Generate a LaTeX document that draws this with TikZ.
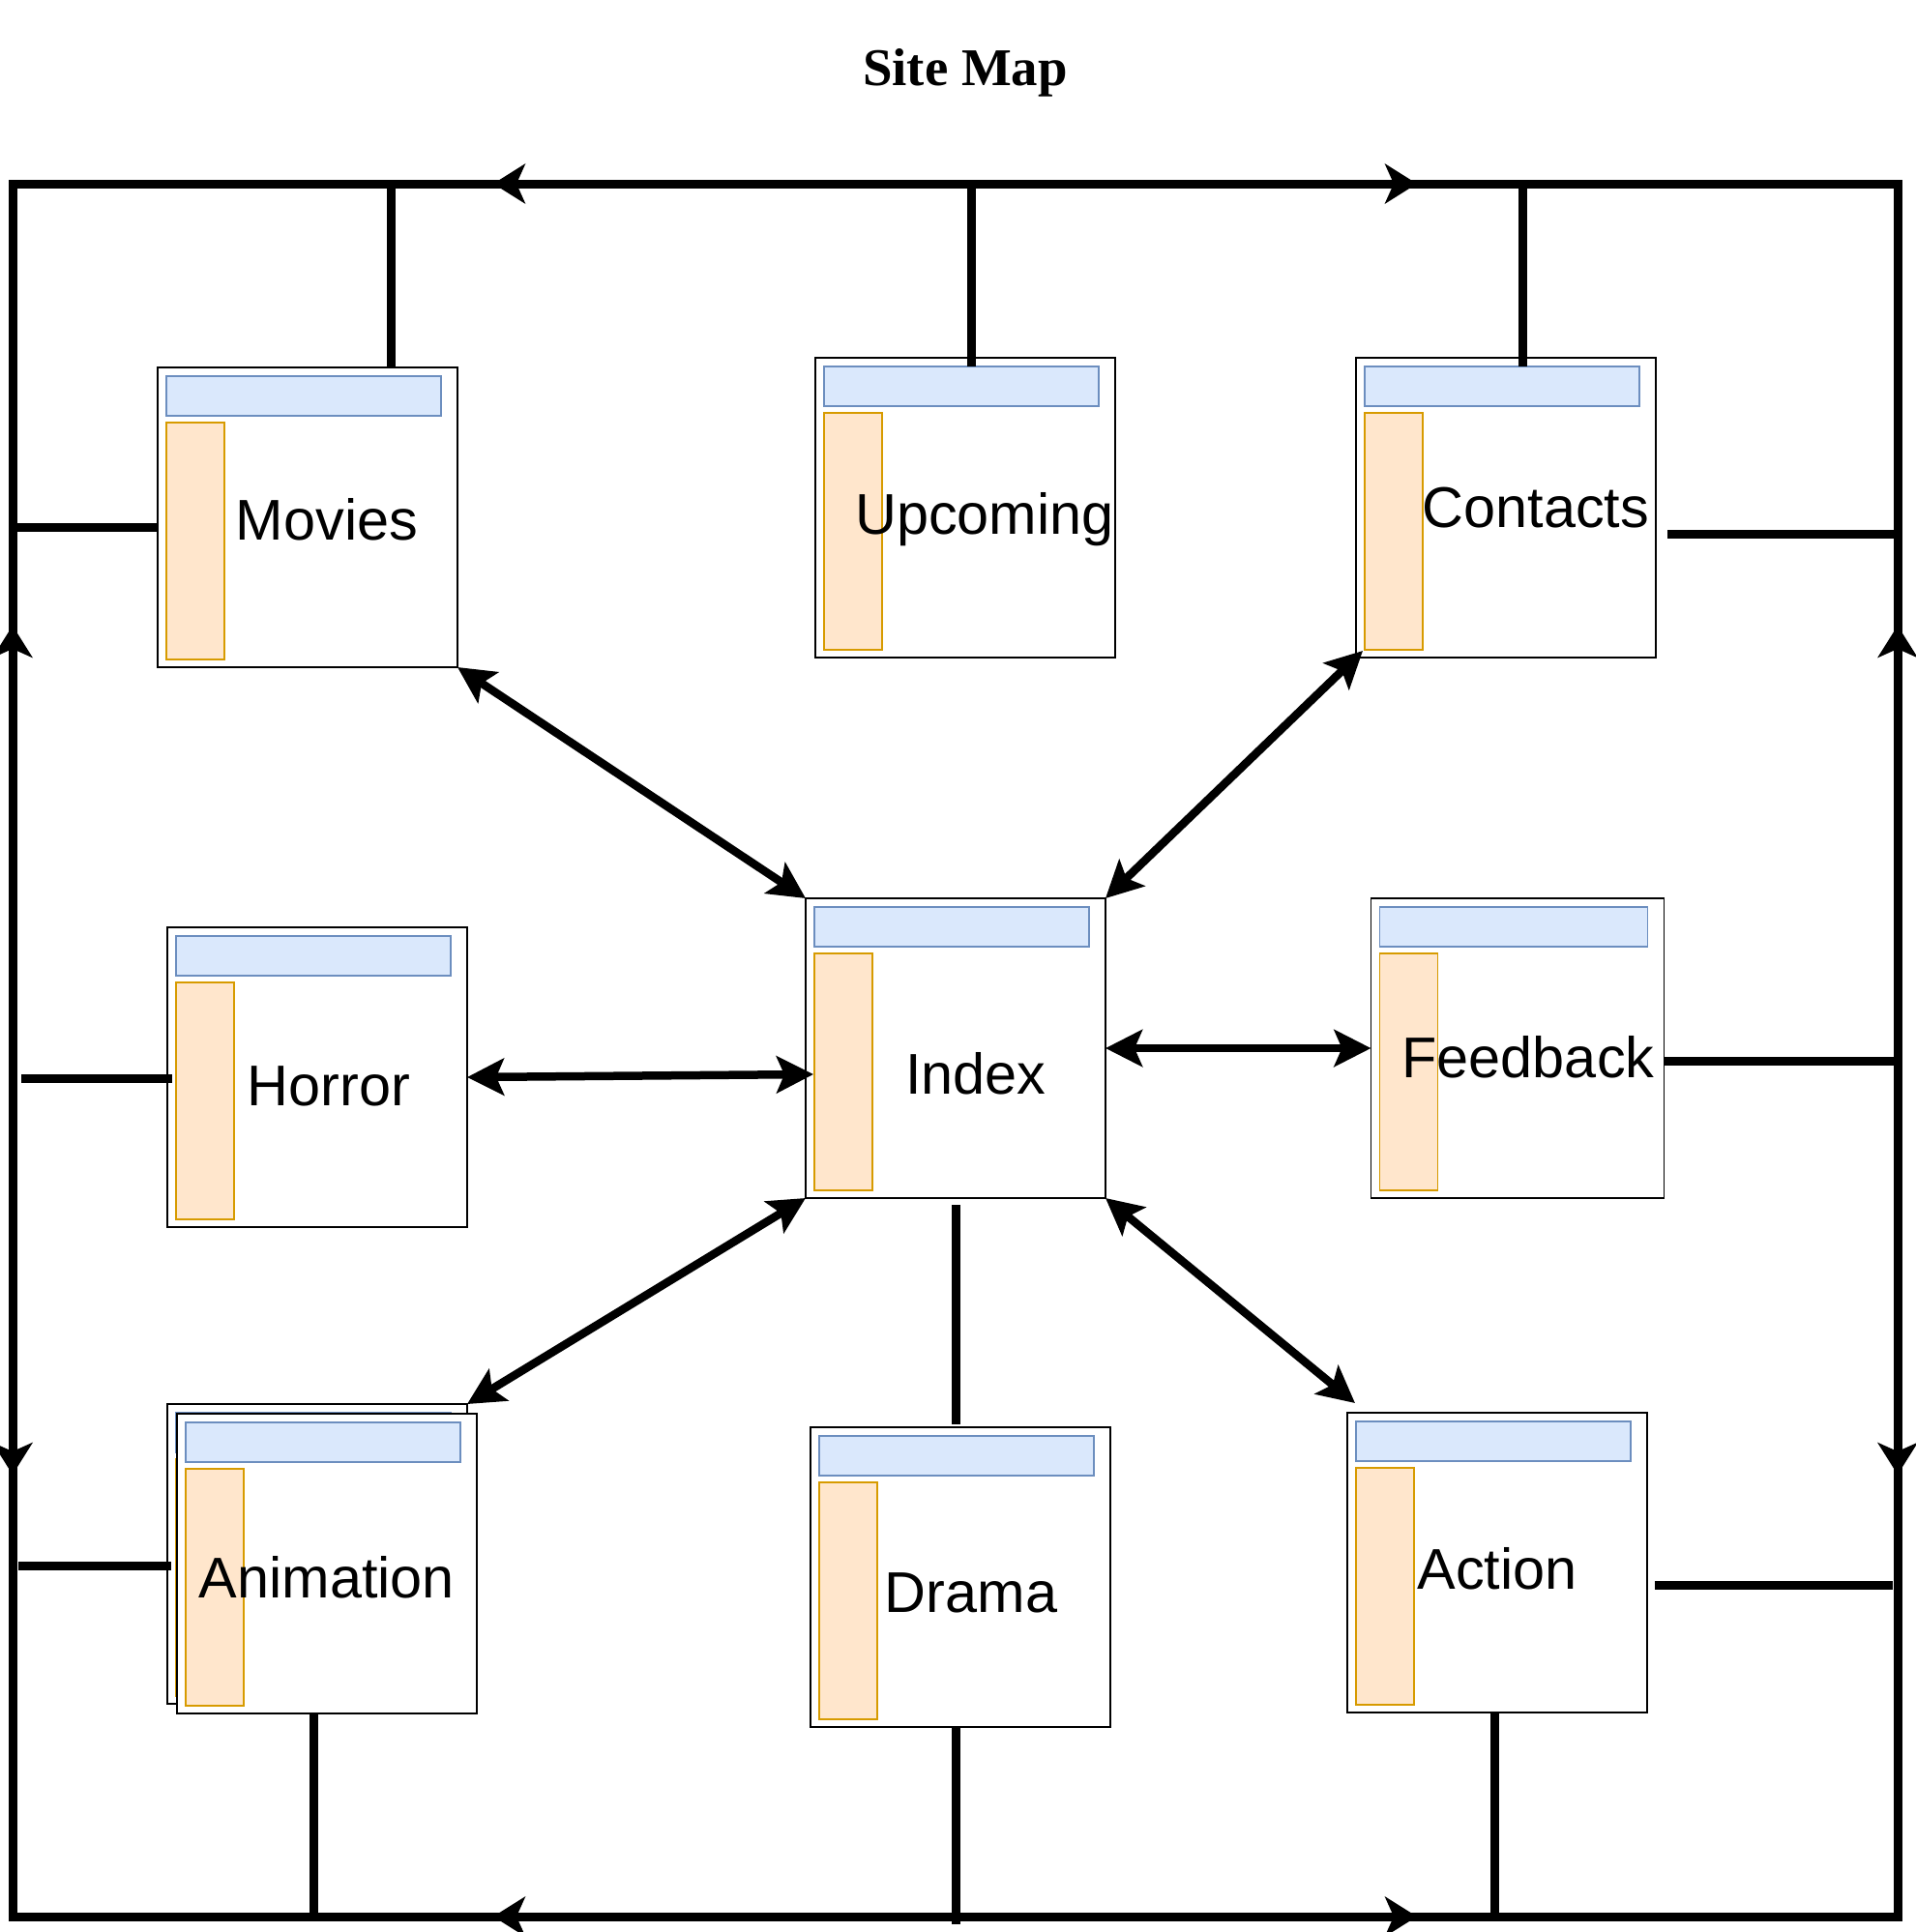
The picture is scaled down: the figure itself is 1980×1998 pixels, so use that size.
\documentclass[tikz,border=0pt]{standalone}
\usepackage{fontspec}
\setmainfont{Liberation Sans}
\newfontfamily\titlefont{Liberation Serif}
\usetikzlibrary{arrows.meta,decorations.markings}
\definecolor{barblue}{HTML}{DAE8FC}
\definecolor{barblueline}{HTML}{6C8EBF}
\definecolor{barorange}{HTML}{FFE6CC}
\definecolor{barorangeline}{HTML}{D79B00}
\begin{document}
\begin{tikzpicture}[x=0.1mm,y=-0.1mm]
  \tikzstyle{page}=[draw,fill=white,line width=0.5pt,inner sep=0pt,outer sep=0pt,
    minimum width=31mm,minimum height=31mm,
    path picture={
      \draw[fill=barblue,draw=barblueline,line width=0.4pt]
        ([shift={(0.9mm,-0.9mm)}]path picture bounding box.north west) rectangle
        ([shift={(-1.7mm,-5mm)}]path picture bounding box.north east);
      \draw[fill=barorange,draw=barorangeline,line width=0.4pt]
        ([shift={(0.9mm,-5.7mm)}]path picture bounding box.north west) rectangle
        ([shift={(6.9mm,0.8mm)}]path picture bounding box.south west);
    }]
  \tikzstyle{pagetext}=[font=\fontsize{16.9}{20}\selectfont,anchor=base,inner sep=0pt]
  \tikzstyle{link}=[line width=0.85mm,
    {Stealth[length=3.8mm,width=3.8mm,inset=0.8mm]}-{Stealth[length=3.8mm,width=3.8mm,inset=0.8mm]}]
  \tikzstyle{stub}=[line width=0.9mm]
  \tikzstyle{frame}=[line width=0.9mm,line cap=rect,postaction=decorate,
    decoration={markings,
      mark=at position 0.255 with {\arrowreversed{Stealth[length=3.3mm,width=4.1mm,inset=0.9mm]}},
      mark=at position 0.745 with {\arrow{Stealth[length=3.3mm,width=4.1mm,inset=0.9mm]}}}]
  \useasboundingbox (0,0) rectangle (1980,1998);

  \node[font=\titlefont\fontsize{15.6}{18}\selectfont\bfseries,anchor=base] (title) at (998,88) {Site Map};

  % pages
  \node[page] (movies) at (318,535) {};
  \node[page] (upcoming) at (998,525) {};
  \node[page] (contacts) at (1557,525) {};
  \node[page] (horror) at (328,1114) {};
  \node[page] (index) at (988,1084) {};
  \node[page,minimum width=30.3mm] (feedback) at (1569,1084) {};
  \node[page] (animback) at (328,1607) {};
  \node[page] (animation) at (338,1617) {};
  \node[page] (drama) at (993,1631) {};
  \node[page] (action) at (1548,1616) {};

  \node[pagetext] (movies-txt) at (338,558) {Movies};
  \node[pagetext] (upcoming-txt) at (1018,552) {Upcoming};
  \node[pagetext] (contacts-txt) at (1588,545) {Contacts};
  \node[pagetext] (horror-txt) at (340,1143) {Horror};
  \node[pagetext] (index-txt) at (1009,1131) {Index};
  \node[pagetext] (feedback-txt) at (1580,1114) {Feedback};
  \node[pagetext] (animation-txt) at (338,1652) {Animation};
  \node[pagetext] (drama-txt) at (1004,1667) {Drama};
  \node[pagetext] (action-txt) at (1548,1643) {Action};

  % outer loop
  \coordinate (tl) at (13,190);
  \coordinate (tr) at (1962,190);
  \coordinate (bl) at (13,1982);
  \coordinate (br) at (1962,1982);
  \draw[frame] (tl) -- (tr);
  \draw[frame] (bl) -- (br);
  \draw[frame] (tl) -- (bl);
  \draw[frame] (tr) -- (br);

  % where the pages meet the loop
  \coordinate (m-up) at (404,190);
  \coordinate (u-up) at (1004,190);
  \coordinate (c-up) at (1574,190);
  \coordinate (m-left) at (13,545);
  \coordinate (c-right) at (1962,552);
  \coordinate (h-left) at (22,1115);
  \coordinate (f-right) at (1962,1097);
  \coordinate (a-left) at (19,1619);
  \coordinate (ac-right) at (1957,1639);
  \coordinate (a-down) at (324,1984);
  \coordinate (d-down) at (988,1990);
  \coordinate (ac-down) at (1545,1982);

  \draw[stub] (m-up) -- (m-up |- movies.north);
  \draw[stub,shorten >=-0.9mm] (u-up) -- (u-up |- upcoming.north);
  \draw[stub,shorten >=-0.9mm] (c-up) -- (c-up |- contacts.north);
  \draw[stub] (m-left) -- (m-left -| movies.west);
  \draw[stub,shorten >=1.2mm] (c-right) -- (c-right -| contacts.east);
  \draw[stub,shorten >=-0.5mm] (h-left) -- (h-left -| horror.west);
  \draw[stub] (f-right) -- (f-right -| feedback.east);
  \draw[stub,shorten >=-0.4mm] (a-left) -- (a-left -| animback.west);
  \draw[stub,shorten >=0.8mm] (ac-right) -- (ac-right -| action.east);
  \draw[stub] (a-down) -- (a-down |- animation.south);
  \draw[stub] (d-down) -- (d-down |- drama.south);
  \draw[stub] (ac-down) -- (ac-down |- action.south);
  \draw[stub,shorten <=0.7mm,shorten >=0.3mm] (index.south) -- (index.south |- drama.north);

  % links from the index
  \draw[link] (movies.south east) -- (index.north west);
  \draw[link] ([shift={(7,-7)}]contacts.south west) -- (index.north east);
  \draw[link] (horror.east) -- ([shift={(8,27)}]index.west);
  \draw[link] (index.east) -- (feedback.west);
  \draw[link] (index.south west) -- (animback.north east);
  \draw[link] (index.south east) -- ([shift={(8,-10)}]action.north west);
\end{tikzpicture}
\end{document}
